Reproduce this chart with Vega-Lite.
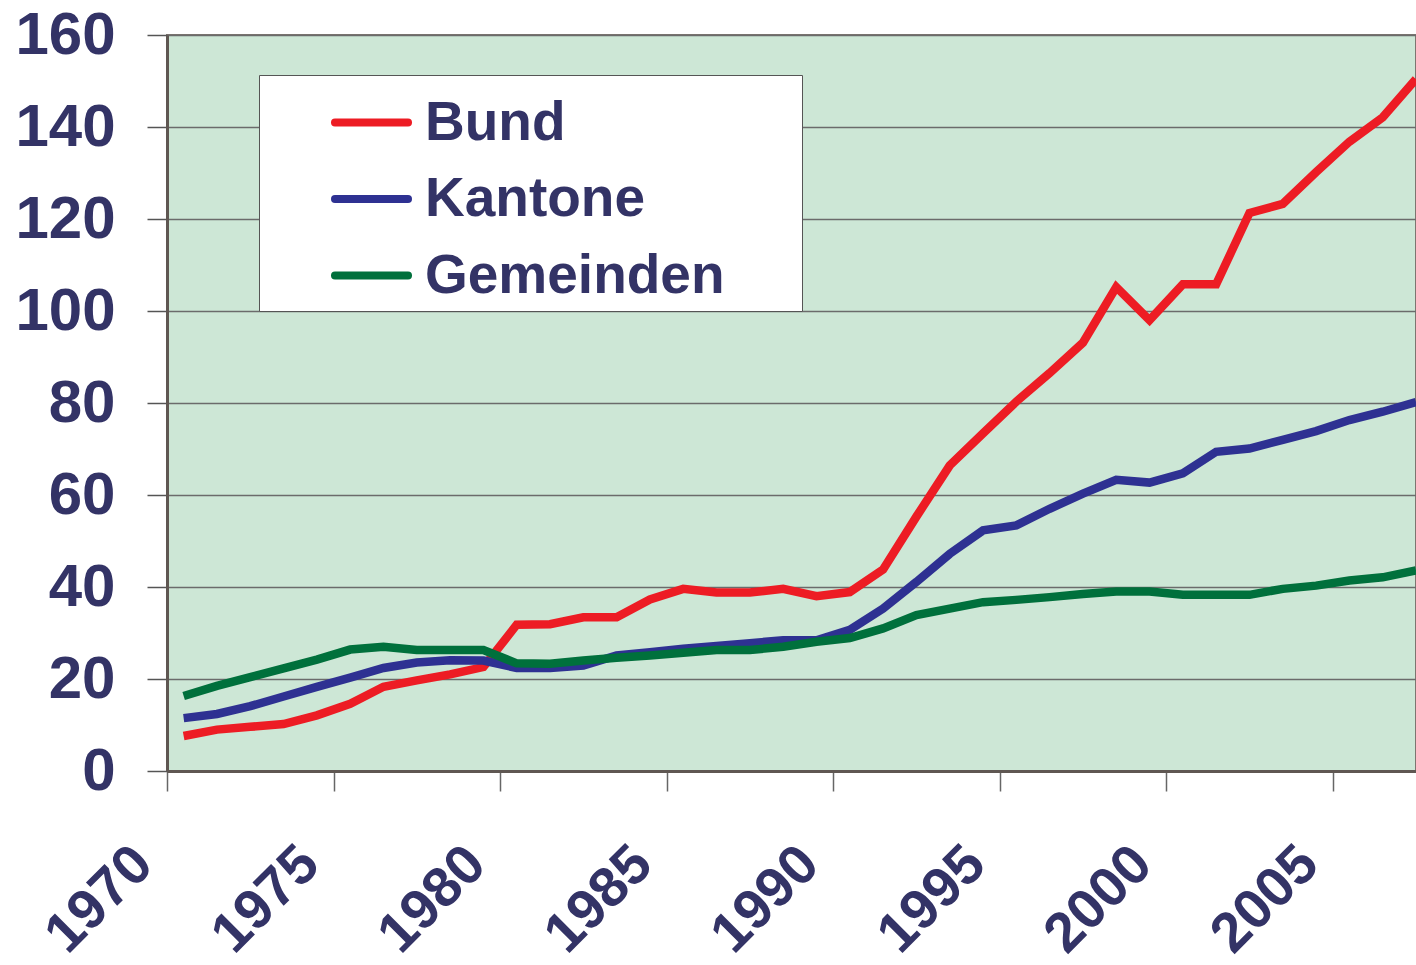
{
  "$schema": "https://vega.github.io/schema/vega-lite/v6.json",
  "autosize": {"type": "none"},
  "padding": {"left": 167, "top": 35, "right": 0, "bottom": 194},
  "width": 1249,
  "height": 736,
  "background": "white",
  "config": {
    "view": {"fill": "#CDE7D6", "stroke": "#7d7670", "strokeWidth": 2},
    "font": "Liberation Sans"
  },
  "data": {
    "values": [
      {"Jahr": 1970, "Bund": 7.6, "Kantone": 11.5, "Gemeinden": 16.3},
      {"Jahr": 1971, "Bund": 9.0, "Kantone": 12.4, "Gemeinden": 18.5},
      {"Jahr": 1972, "Bund": 9.6, "Kantone": 14.1, "Gemeinden": 20.4},
      {"Jahr": 1973, "Bund": 10.2, "Kantone": 16.2, "Gemeinden": 22.3},
      {"Jahr": 1974, "Bund": 12.1, "Kantone": 18.3, "Gemeinden": 24.2},
      {"Jahr": 1975, "Bund": 14.6, "Kantone": 20.3, "Gemeinden": 26.4},
      {"Jahr": 1976, "Bund": 18.3, "Kantone": 22.4, "Gemeinden": 27.0},
      {"Jahr": 1977, "Bund": 19.7, "Kantone": 23.6, "Gemeinden": 26.3},
      {"Jahr": 1978, "Bund": 21.0, "Kantone": 24.1, "Gemeinden": 26.3},
      {"Jahr": 1979, "Bund": 22.6, "Kantone": 24.0, "Gemeinden": 26.3},
      {"Jahr": 1980, "Bund": 31.8, "Kantone": 22.4, "Gemeinden": 23.4},
      {"Jahr": 1981, "Bund": 31.9, "Kantone": 22.4, "Gemeinden": 23.3},
      {"Jahr": 1982, "Bund": 33.4, "Kantone": 22.9, "Gemeinden": 24.0},
      {"Jahr": 1983, "Bund": 33.4, "Kantone": 25.1, "Gemeinden": 24.6},
      {"Jahr": 1984, "Bund": 37.3, "Kantone": 25.8, "Gemeinden": 25.1},
      {"Jahr": 1985, "Bund": 39.6, "Kantone": 26.6, "Gemeinden": 25.7},
      {"Jahr": 1986, "Bund": 38.8, "Kantone": 27.2, "Gemeinden": 26.3},
      {"Jahr": 1987, "Bund": 38.8, "Kantone": 27.8, "Gemeinden": 26.3},
      {"Jahr": 1988, "Bund": 39.6, "Kantone": 28.4, "Gemeinden": 27.0},
      {"Jahr": 1989, "Bund": 38.0, "Kantone": 28.4, "Gemeinden": 28.1},
      {"Jahr": 1990, "Bund": 38.9, "Kantone": 30.7, "Gemeinden": 28.9},
      {"Jahr": 1991, "Bund": 43.8, "Kantone": 35.3, "Gemeinden": 31.0},
      {"Jahr": 1992, "Bund": 55.3, "Kantone": 41.1, "Gemeinden": 33.9},
      {"Jahr": 1993, "Bund": 66.4, "Kantone": 47.2, "Gemeinden": 35.3},
      {"Jahr": 1994, "Bund": 73.4, "Kantone": 52.3, "Gemeinden": 36.7},
      {"Jahr": 1995, "Bund": 80.3, "Kantone": 53.4, "Gemeinden": 37.2},
      {"Jahr": 1996, "Bund": 86.5, "Kantone": 57.0, "Gemeinden": 37.8},
      {"Jahr": 1997, "Bund": 93.1, "Kantone": 60.3, "Gemeinden": 38.5},
      {"Jahr": 1998, "Bund": 105.2, "Kantone": 63.3, "Gemeinden": 39.0},
      {"Jahr": 1999, "Bund": 98.0, "Kantone": 62.7, "Gemeinden": 39.0},
      {"Jahr": 2000, "Bund": 105.8, "Kantone": 64.7, "Gemeinden": 38.3},
      {"Jahr": 2001, "Bund": 105.8, "Kantone": 69.4, "Gemeinden": 38.3},
      {"Jahr": 2002, "Bund": 121.3, "Kantone": 70.1, "Gemeinden": 38.3},
      {"Jahr": 2003, "Bund": 123.3, "Kantone": 72.0, "Gemeinden": 39.6},
      {"Jahr": 2004, "Bund": 130.2, "Kantone": 73.9, "Gemeinden": 40.3},
      {"Jahr": 2005, "Bund": 136.8, "Kantone": 76.3, "Gemeinden": 41.4},
      {"Jahr": 2006, "Bund": 142.1, "Kantone": 78.1, "Gemeinden": 42.1},
      {"Jahr": 2007, "Bund": 150.4, "Kantone": 80.2, "Gemeinden": 43.6}
    ]
  },
  "transform": [{"fold": ["Bund", "Kantone", "Gemeinden"], "as": ["Ebene", "Wert"]}],
  "mark": {"type": "line", "strokeWidth": 8.5, "xOffset": 16.65, "clip": true},
  "encoding": {
    "x": {
      "field": "Jahr",
      "type": "quantitative",
      "scale": {"domain": [1970, 2007.5], "nice": false, "zero": false},
      "axis": {
        "values": [1970, 1975, 1980, 1985, 1990, 1995, 2000, 2005],
        "format": "d",
        "title": null,
        "grid": false,
        "domainColor": "#5f5752",
        "domainWidth": 3,
        "tickSize": 20,
        "tickColor": "#666666",
        "tickWidth": 1.5,
        "labelAngle": -45,
        "labelAlign": "right",
        "labelBaseline": "middle",
        "labelFontWeight": "bold",
        "labelFontSize": 56,
        "labelColor": "#333366",
        "labelPadding": 64,
        "labelOffset": -24,
        "labelOverlap": false,
        "labelFlush": false
      }
    },
    "y": {
      "field": "Wert",
      "type": "quantitative",
      "scale": {"domain": [0, 160], "nice": false},
      "axis": {
        "values": [0, 20, 40, 60, 80, 100, 120, 140, 160],
        "title": null,
        "grid": true,
        "gridColor": "#6b6b6b",
        "gridWidth": 1.5,
        "domainColor": "#5f5752",
        "domainWidth": 3,
        "tickSize": 20,
        "tickColor": "#555555",
        "tickWidth": 1.5,
        "labelFontSize": 60,
        "labelFontWeight": "bold",
        "labelColor": "#333366",
        "labelPadding": 32,
        "labelOverlap": false,
        "labelFlush": false
      }
    },
    "color": {
      "field": "Ebene",
      "type": "nominal",
      "scale": {"domain": ["Bund", "Kantone", "Gemeinden"], "range": ["#ED1C24", "#2E3192", "#00703C"]},
      "legend": {
        "title": " ",
        "titleOrient": "right",
        "titlePadding": 70,
        "titleFontSize": 10,
        "orient": "none",
        "legendX": 92,
        "legendY": 40,
        "fillColor": "white",
        "strokeColor": "#555555",
        "padding": 7,
        "symbolType": "stroke",
        "symbolSize": 5329,
        "symbolStrokeWidth": 8,
        "symbolOffset": 65,
        "labelFontSize": 55,
        "labelFontWeight": "bold",
        "labelColor": "#333366",
        "labelOffset": 13,
        "labelLimit": 600,
        "rowPadding": 7.5,
        "encode": {
          "symbols": {"update": {"strokeCap": {"value": "round"}}}
        }
      }
    }
  }
}
